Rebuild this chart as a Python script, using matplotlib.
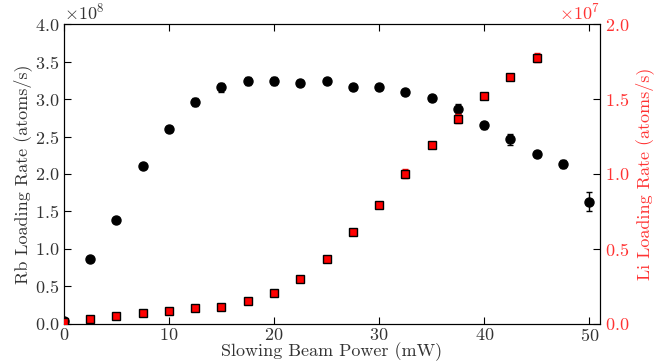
import numpy as np
import matplotlib.pyplot as plt

plt.rcParams['font.family'] = 'cmr10'
plt.rcParams['mathtext.fontset'] = 'cm'
plt.rcParams['axes.formatter.use_mathtext'] = True
plt.rcParams['font.size'] = 13

power = [0, 2.5, 5, 7.5, 10, 12.5, 15, 17.5, 20, 22.5, 25, 27.5, 30, 32.5, 35, 37.5, 40, 42.5, 45, 47.5, 50]
rb_rate = [0.04, 0.86, 1.38, 2.10, 2.60, 2.96, 3.16, 3.24, 3.24, 3.22, 3.24, 3.16, 3.16, 3.09, 3.02, 2.87, 2.65, 2.46, 2.26, 2.13, 1.63]
rb_err = [0.02, 0.02, 0.02, 0.02, 0.04, 0.05, 0.06, 0.05, 0.05, 0.04, 0.04, 0.04, 0.04, 0.03, 0.04, 0.07, 0.05, 0.07, 0.04, 0.05, 0.13]

li_power = [0, 2.5, 5, 7.5, 10, 12.5, 15, 17.5, 20, 22.5, 25, 27.5, 30, 32.5, 35, 37.5, 40, 42.5, 45]
li_rate = [0.01, 0.035, 0.05, 0.07, 0.085, 0.105, 0.11, 0.15, 0.205, 0.30, 0.43, 0.61, 0.79, 1.00, 1.19, 1.37, 1.52, 1.65, 1.775]
li_err = [0.005, 0.005, 0.005, 0.005, 0.005, 0.005, 0.005, 0.005, 0.005, 0.01, 0.01, 0.01, 0.01, 0.03, 0.02, 0.03, 0.01, 0.02, 0.03]

txt = '#333333'
red = '#ff3333'

fig = plt.figure(figsize=(6.65, 3.64), dpi=100)
ax = fig.add_axes([0.096, 0.110, 0.806, 0.824])
ax2 = ax.twinx()

ax.errorbar(power, np.array(rb_rate) * 1e8, yerr=np.array(rb_err) * 1e8, fmt='o', color='black',
            markersize=6.5, capsize=2.5, elinewidth=1, zorder=3)
ax2.errorbar(li_power, np.array(li_rate) * 1e7, yerr=np.array(li_err) * 1e7, fmt='s', mfc='red', mec='black',
             ecolor='red', markersize=6, mew=1, capsize=2.5, elinewidth=1, zorder=3)

ax.set_xlim(0, 51)
ax.set_ylim(0, 4e8)
ax2.set_ylim(0, 2e7)
ax.set_xticks([0, 10, 20, 30, 40, 50])
ax.set_yticks(np.arange(0, 4.01e8, 0.5e8))
ax2.set_yticks(np.arange(0, 2.01e7, 0.5e7))
ax.ticklabel_format(axis='y', style='sci', scilimits=(0, 0))
ax2.ticklabel_format(axis='y', style='sci', scilimits=(0, 0))

ax.tick_params(direction='in', top=True, length=5, labelcolor=txt, labelsize=13)
ax.tick_params(axis='x', pad=2)
ax2.tick_params(direction='in', length=5, labelcolor=red, labelsize=13)
ax.yaxis.get_offset_text().set_color(txt)
ax2.yaxis.get_offset_text().set_color(red)

ax.set_xlabel('Slowing Beam Power (mW)', color=txt, labelpad=-1)
ax.set_ylabel('Rb Loading Rate (atoms/s)', color=txt, labelpad=2)
ax2.set_ylabel('Li Loading Rate (atoms/s)', color=red)

fig.savefig('out.png', dpi=100)
